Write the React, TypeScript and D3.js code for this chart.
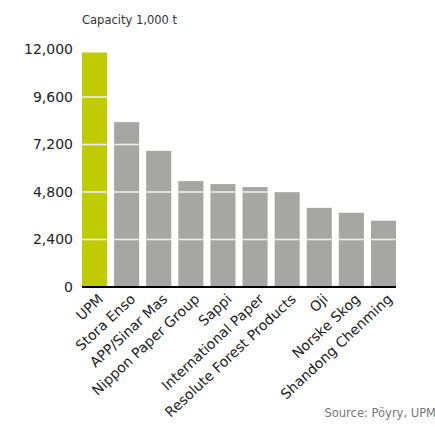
import React from "react";
import * as d3 from "d3";

const companies = [
  "UPM",
  "Stora Enso",
  "APP/Sinar Mas",
  "Nippon Paper Group",
  "Sappi",
  "International Paper",
  "Resolute Forest Products",
  "Oji",
  "Norske Skog",
  "Shandong Chenming",
];
const capacity = [11850, 8330, 6880, 5350, 5200, 5050, 4790, 4000, 3750, 3350];
const yTicks = [0, 2400, 4800, 7200, 9600, 12000];
const highlight = "UPM";

const W = 435;
const H = 427;
const FONT = "'DejaVu Sans', sans-serif";

export default function App() {
  const x = d3.scaleBand<string>().domain(companies).range([82, 396]).paddingInner(0.22).paddingOuter(0);
  const y = d3.scaleLinear().domain([0, 12000]).range([287, 49.5]);
  const fmt = d3.format(",");

  return (
    <svg width={W} height={H} style={{ position: "absolute", left: 0, top: 0 }} fontFamily={FONT}>
      <rect width={W} height={H} fill="#fff" />
      <text x={82} y={24} fontSize={11.5} fill="#333">Capacity 1,000 t</text>
      {companies.map((c, i) => (
        <g key={c}>
          <rect
            x={x(c)}
            y={y(capacity[i])}
            width={x.bandwidth()}
            height={y(0) - y(capacity[i])}
            fill={c === highlight ? "#bfcd00" : "#a6a6a5"}
          />
          {yTicks
            .filter((t) => t > 0 && t < capacity[i])
            .map((t) => (
              <line
                key={t}
                x1={x(c)}
                x2={(x(c) as number) + x.bandwidth()}
                y1={y(t)}
                y2={y(t)}
                stroke="#eeeeee"
                strokeWidth={1.6}
              />
            ))}
        </g>
      ))}
      <line x1={82} x2={396} y1={y(0)} y2={y(0)} stroke="#000" strokeWidth={1.8} />
      {yTicks.map((t) => (
        <text key={t} x={73} y={y(t)} dy="0.35em" textAnchor="end" fontSize={14} fill="#222">
          {fmt(t)}
        </text>
      ))}
      {companies.map((c) => {
        const cx = (x(c) as number) + x.bandwidth() / 2 + 3;
        const cy = 293;
        return (
          <text
            key={c}
            transform={`translate(${cx},${cy}) rotate(-43)`}
            textAnchor="end"
            dy="0.7em"
            fontSize={14}
            fill="#222"
          >
            {c}
          </text>
        );
      })}
      <text x={436} y={417} textAnchor="end" fontSize={11.5} fill="#777">Source: Pöyry, UPM</text>
    </svg>
  );
}
